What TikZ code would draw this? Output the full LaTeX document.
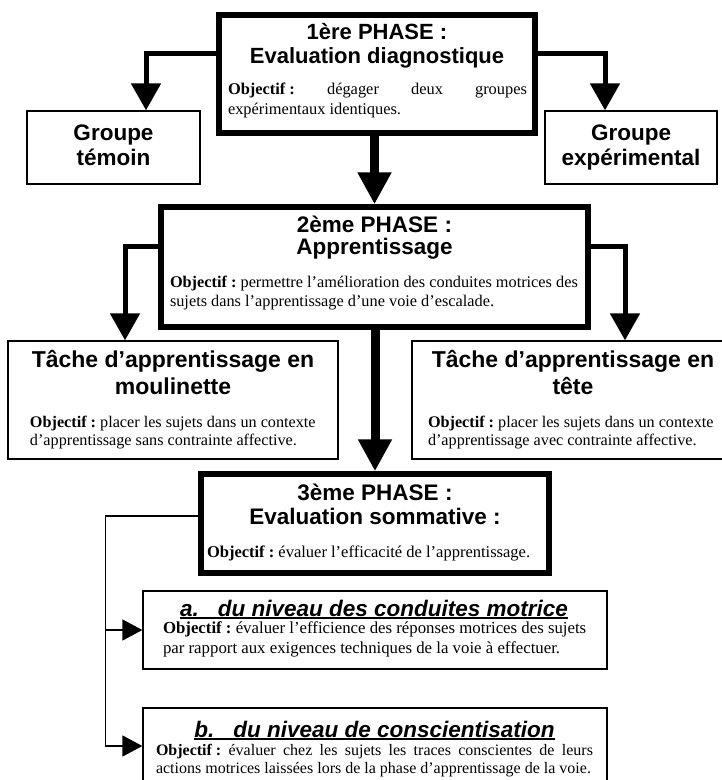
\documentclass[tikz,border=0pt]{standalone}
\usepackage{fontspec}
\setmainfont{Liberation Serif}
\newfontfamily\headfont{Liberation Sans}
\usetikzlibrary{arrows.meta}

% text helpers
\newcommand\hsz[2]{\fontsize{#1}{#2}\selectfont}
\newcommand\objlbl{\textbf{Objectif\hspace{0.25em}:}}
\newcommand\txtblk[2]{\vtop{\hsize=#1\relax\parindent=0pt\relax #2\par}}
\newsavebox\ulinebox
\newcommand\thickul[1]{\sbox\ulinebox{#1}\rlap{\rule[-3pt]{\wd\ulinebox}{1.8pt}}\usebox\ulinebox}

\tikzset{
  phasebox/.style={draw, line width=5.5pt, inner sep=0pt},
  plainbox/.style={draw, line width=1.3pt, inner sep=0pt},
  txt/.style={inner sep=0pt, outer sep=0pt},
  sidearrow/.style={line width=5pt, -{Triangle[length=27pt,width=29pt]}},
  mainarrow/.style={line width=9pt, -{Triangle[length=32pt,width=32pt]}},
  thinarrow/.style={line width=1.5pt, -{Triangle[length=20pt,width=21pt]}},
  headtxt/.style={txt, font=\headfont\bfseries},
}

\begin{document}
\begin{tikzpicture}[x=1pt,y=-1pt]
\useasboundingbox (0,0) rectangle (722,780);
\fill[white] (0,0) rectangle (722,780);
\clip (0,0) rectangle (722,780);

% ---------- boxes ----------
\node[phasebox, minimum width=316pt, minimum height=118pt] (p1) at (377,74) {};
\node[plainbox, minimum width=173pt, minimum height=73pt] (gt) at (113.5,147.5) {};
\node[plainbox, minimum width=172pt, minimum height=73pt] (ge) at (631,147.5) {};
\node[phasebox, minimum width=427pt, minimum height=120pt] (p2) at (374.5,267) {};
\node[plainbox, minimum width=330pt, minimum height=118pt] (tl) at (173,400) {};
\node[plainbox, minimum width=322pt, minimum height=118pt] (tr) at (573,400) {};
\node[phasebox, minimum width=348pt, minimum height=99pt] (p3) at (375,523.5) {};
\node[plainbox, minimum width=464pt, minimum height=78pt] (ba) at (375,630) {};
\node[plainbox, minimum width=464pt, minimum height=76pt] (bb) at (375,746) {};

% ---------- connectors ----------
\draw[sidearrow] ([yshift=21pt]p1.west) -| ([xshift=32.5pt]gt.north);
\draw[sidearrow] ([yshift=21pt]p1.east) -| ([xshift=-26pt]ge.north);
\draw[mainarrow] (p2.north |- p1.south) -- (p2.north);
\draw[sidearrow] ([yshift=21pt]p2.west) -| ([xshift=-48pt]tl.north);
\draw[sidearrow] ([yshift=21pt]p2.east) -| ([xshift=52pt]tr.north);
\draw[mainarrow] (p3.north |- p2.south) -- (p3.north);
\draw[thinarrow] ([yshift=7.5pt]p3.west) -| ([xshift=-37pt]bb.west) -- (bb.west);
\draw[thinarrow] ([xshift=-37pt]ba.west) -- (ba.west);

% ---------- texts ----------
\node[headtxt, anchor=base] (p1h) at (377,39)
  {\txtblk{330pt}{\centering\hsz{22}{24}1ère PHASE :\\Evaluation diagnostique}};
\node[txt, anchor=base west] (p1o) at (228,94)
  {\txtblk{299pt}{\hsz{16.4}{20}\makebox[\hsize][s]{\objlbl\ dégager deux groupes}\par expérimentaux identiques.}};

\node[headtxt, anchor=base] (gth) at (113.5,140)
  {\txtblk{170pt}{\centering\hsz{22.5}{25}Groupe\\témoin}};
\node[headtxt, anchor=base] (geh) at (631,140)
  {\txtblk{170pt}{\centering\hsz{22.5}{25}Groupe\\expérimental}};

\node[headtxt, anchor=base] (p2h) at (374.5,232)
  {\txtblk{420pt}{\centering\hsz{22.5}{22}2ème PHASE :\\Apprentissage}};
\node[txt, anchor=base west] (p2o) at (170,287)
  {\txtblk{420pt}{\raggedright\hsz{16.3}{19}\objlbl\ permettre l’amélioration des conduites motrices des\\sujets dans l’apprentissage d’une voie d’escalade.}};

\node[headtxt, anchor=base] (tlh) at (173,367)
  {\txtblk{330pt}{\centering\hsz{23}{27}Tâche d’apprentissage en\\moulinette}};
\node[txt, anchor=base west] (tlo) at (30,427)
  {\txtblk{300pt}{\raggedright\hsz{16.2}{18.5}\objlbl\ placer les sujets dans un contexte\\d’apprentissage sans contrainte affective.}};

\node[headtxt, anchor=base] (trh) at (573,367)
  {\txtblk{330pt}{\centering\hsz{23}{27}Tâche d’apprentissage en\\tête}};
\node[txt, anchor=base west] (tro) at (428,427)
  {\txtblk{300pt}{\raggedright\hsz{16.2}{18.5}\objlbl\ placer les sujets dans un contexte\\d’apprentissage avec contrainte affective.}};

\node[headtxt, anchor=base] (p3h) at (375,500)
  {\txtblk{340pt}{\centering\hsz{22.5}{24}3ème PHASE :\\Evaluation sommative :}};
\node[txt, anchor=base west] (p3o) at (207,557)
  {\hsz{16.5}{19}\objlbl\ évaluer l’efficacité de l’apprentissage.};

\node[headtxt, anchor=base, font=\headfont\bfseries\itshape\hsz{22.5}{24}] (bah) at (374,616)
  {\thickul{a.\hspace{19pt}du niveau des conduites motrice}};
\node[txt, anchor=base west] (bao) at (163,633)
  {\txtblk{440pt}{\raggedright\hsz{16.8}{20}\objlbl\ évaluer l’efficience des réponses motrices des sujets\\par rapport aux exigences techniques de la voie à effectuer.}};

\node[headtxt, anchor=base, font=\headfont\bfseries\itshape\hsz{22.5}{24}] (bbh) at (374.5,737)
  {\thickul{b.\hspace{19pt}du niveau de conscientisation}};
\node[txt, anchor=base west] (bbo) at (156,755)
  {\txtblk{437pt}{\hsz{16}{18}\makebox[\hsize][s]{\objlbl\ évaluer chez les sujets les traces conscientes de leurs}\par actions motrices laissées lors de la phase d’apprentissage de la voie.}};

\end{tikzpicture}
\end{document}
